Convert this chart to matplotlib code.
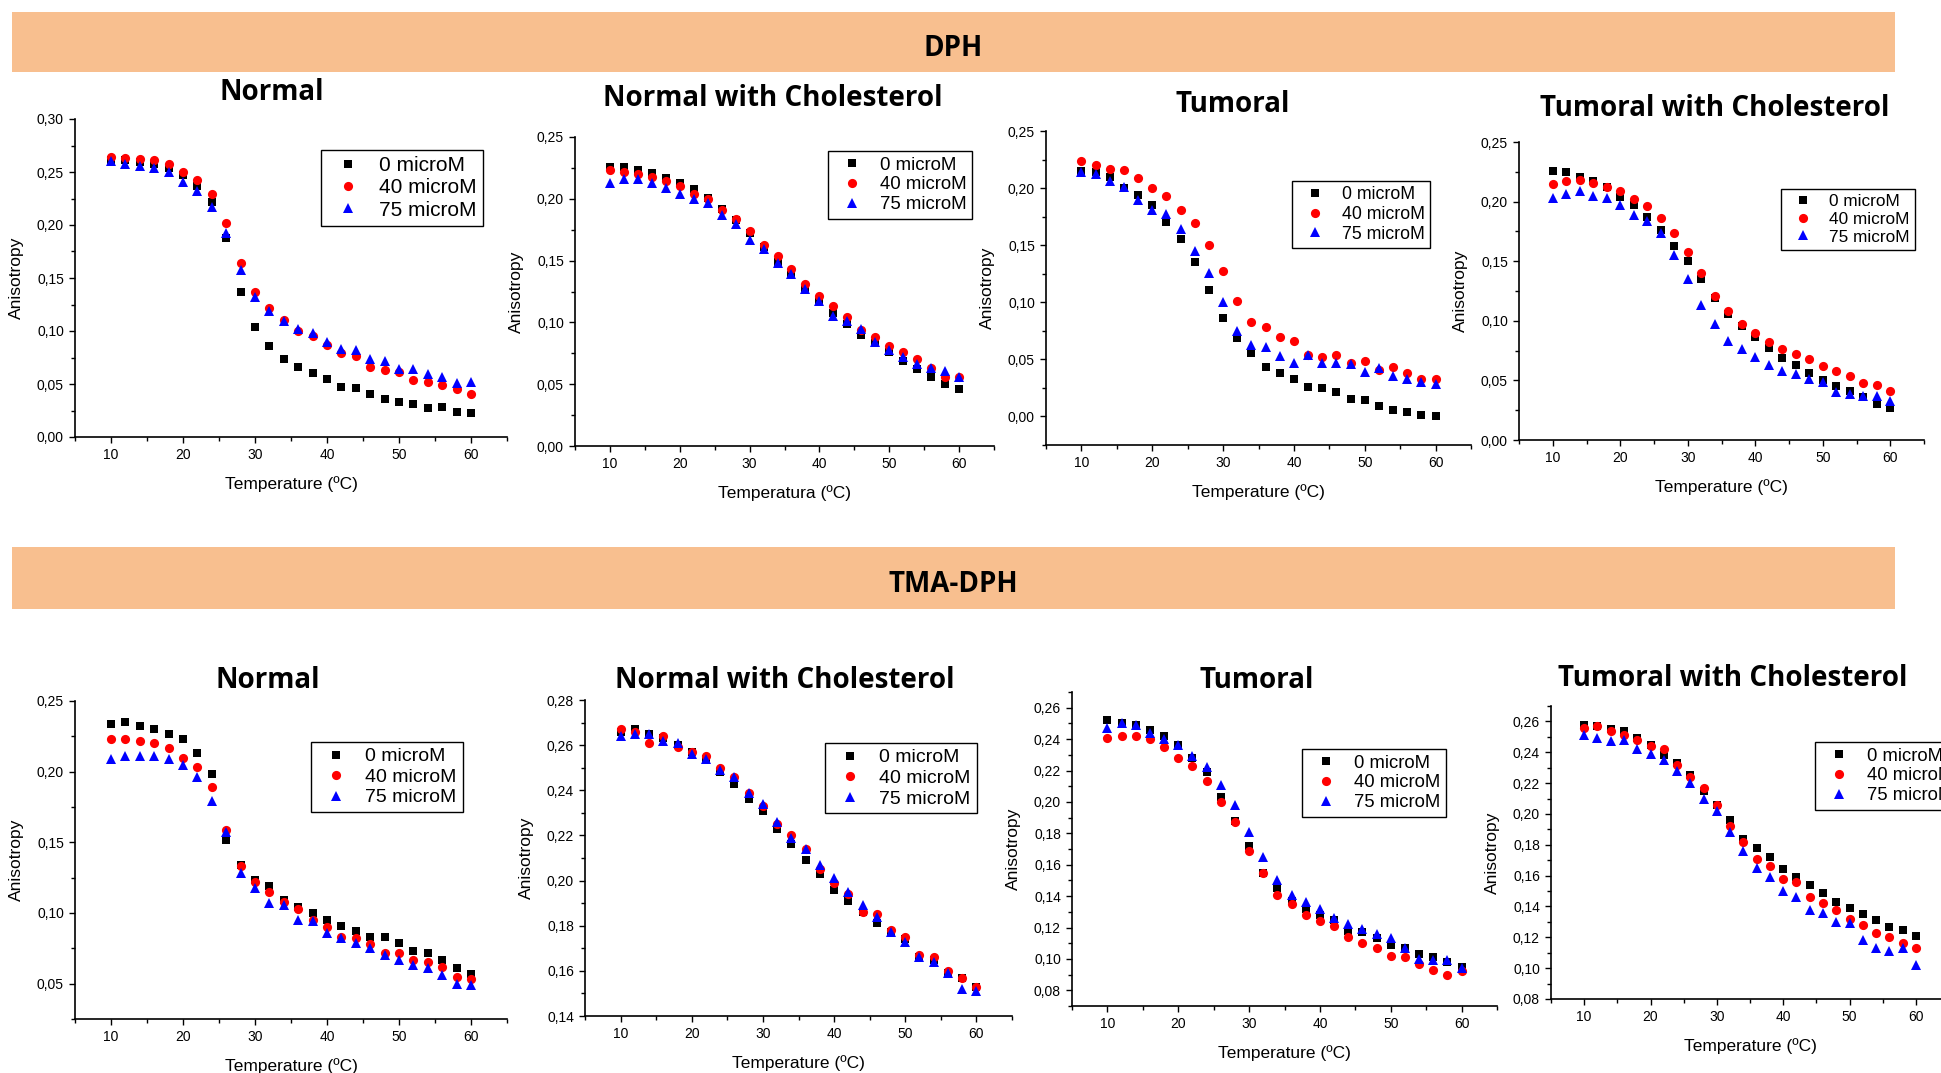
import matplotlib
matplotlib.use('Agg')
import matplotlib.pyplot as plt
from matplotlib.patches import Rectangle
from matplotlib.ticker import MultipleLocator, FuncFormatter

# temperatures (ºC)
temps = [10, 12, 14, 16, 18, 20, 22, 24, 26, 28, 30, 32, 34, 36, 38, 40,
         42, 44, 46, 48, 50, 52, 54, 56, 58, 60]
series_labels = ['0 microM', '40 microM', '75 microM']

# ---- DPH ----
dph_normal_0 = [0.261, 0.261, 0.259, 0.258, 0.254, 0.247, 0.237, 0.222, 0.188, 0.137, 0.104, 0.086, 0.074,
                0.066, 0.060, 0.055, 0.047, 0.046, 0.041, 0.036, 0.033, 0.031, 0.027, 0.028, 0.024, 0.023]
dph_normal_40 = [0.264, 0.263, 0.262, 0.261, 0.258, 0.250, 0.242, 0.229, 0.202, 0.164, 0.137, 0.122, 0.110,
                 0.100, 0.095, 0.087, 0.079, 0.076, 0.066, 0.063, 0.061, 0.054, 0.052, 0.049, 0.045, 0.041]
dph_normal_75 = [0.260, 0.258, 0.256, 0.254, 0.250, 0.241, 0.232, 0.217, 0.192, 0.158, 0.132, 0.119, 0.109,
                 0.102, 0.098, 0.090, 0.083, 0.082, 0.074, 0.072, 0.064, 0.064, 0.059, 0.057, 0.051, 0.052]

dph_chol_0 = [0.226, 0.226, 0.223, 0.221, 0.217, 0.213, 0.208, 0.201, 0.192, 0.183, 0.172, 0.161, 0.149,
              0.138, 0.128, 0.117, 0.108, 0.099, 0.090, 0.083, 0.076, 0.069, 0.062, 0.056, 0.050, 0.046]
dph_chol_40 = [0.223, 0.222, 0.220, 0.218, 0.214, 0.210, 0.204, 0.200, 0.191, 0.184, 0.174, 0.163, 0.154,
               0.143, 0.131, 0.121, 0.113, 0.104, 0.094, 0.088, 0.081, 0.076, 0.070, 0.063, 0.056, 0.056]
dph_chol_75 = [0.213, 0.216, 0.216, 0.213, 0.209, 0.204, 0.200, 0.197, 0.187, 0.180, 0.167, 0.159, 0.148,
               0.139, 0.127, 0.117, 0.105, 0.101, 0.095, 0.084, 0.078, 0.072, 0.066, 0.063, 0.061, 0.056]

dph_tum_0 = [0.215, 0.214, 0.210, 0.200, 0.194, 0.185, 0.170, 0.155, 0.135, 0.111, 0.086, 0.069, 0.056,
             0.043, 0.038, 0.033, 0.026, 0.025, 0.021, 0.015, 0.014, 0.009, 0.006, 0.004, 0.001, 0.000]
dph_tum_40 = [0.224, 0.220, 0.217, 0.216, 0.209, 0.200, 0.193, 0.181, 0.169, 0.150, 0.127, 0.101, 0.083,
              0.078, 0.070, 0.066, 0.054, 0.052, 0.054, 0.047, 0.049, 0.041, 0.043, 0.038, 0.033, 0.033]
dph_tum_75 = [0.214, 0.212, 0.206, 0.201, 0.190, 0.181, 0.177, 0.164, 0.145, 0.126, 0.100, 0.075, 0.063,
              0.061, 0.053, 0.047, 0.054, 0.047, 0.047, 0.046, 0.039, 0.042, 0.035, 0.033, 0.030, 0.028]

dph_tumchol_0 = [0.226, 0.225, 0.221, 0.217, 0.212, 0.204, 0.197, 0.187, 0.176, 0.163, 0.150, 0.135, 0.119,
                 0.106, 0.096, 0.086, 0.077, 0.069, 0.063, 0.056, 0.050, 0.045, 0.041, 0.036, 0.030, 0.027]
dph_tumchol_40 = [0.215, 0.217, 0.218, 0.216, 0.212, 0.209, 0.202, 0.196, 0.186, 0.174, 0.158, 0.140, 0.121,
                  0.108, 0.097, 0.090, 0.082, 0.076, 0.072, 0.068, 0.062, 0.058, 0.054, 0.048, 0.046, 0.041]
dph_tumchol_75 = [0.203, 0.206, 0.209, 0.205, 0.203, 0.197, 0.189, 0.184, 0.174, 0.155, 0.135, 0.113, 0.097,
                  0.083, 0.076, 0.070, 0.063, 0.058, 0.055, 0.051, 0.049, 0.040, 0.039, 0.037, 0.037, 0.033]

# ---- TMA-DPH ----
tma_normal_0 = [0.234, 0.235, 0.232, 0.230, 0.227, 0.223, 0.213, 0.198, 0.152, 0.134, 0.123, 0.119, 0.109,
                0.104, 0.100, 0.095, 0.091, 0.087, 0.083, 0.083, 0.079, 0.073, 0.072, 0.067, 0.061, 0.057]
tma_normal_40 = [0.223, 0.223, 0.222, 0.220, 0.217, 0.210, 0.203, 0.189, 0.159, 0.133, 0.122, 0.115, 0.108,
                 0.103, 0.095, 0.090, 0.083, 0.082, 0.078, 0.072, 0.072, 0.067, 0.065, 0.062, 0.055, 0.053]
tma_normal_75 = [0.209, 0.211, 0.211, 0.211, 0.209, 0.205, 0.196, 0.179, 0.157, 0.128, 0.118, 0.107, 0.106,
                 0.095, 0.094, 0.086, 0.082, 0.079, 0.075, 0.070, 0.067, 0.063, 0.061, 0.056, 0.050, 0.049]

tma_chol_0 = [0.266, 0.267, 0.265, 0.263, 0.260, 0.257, 0.254, 0.248, 0.243, 0.236, 0.231, 0.223, 0.216,
              0.209, 0.203, 0.196, 0.191, 0.186, 0.181, 0.177, 0.174, 0.166, 0.165, 0.159, 0.157, 0.153]
tma_chol_40 = [0.267, 0.266, 0.261, 0.264, 0.259, 0.257, 0.255, 0.250, 0.246, 0.239, 0.233, 0.225, 0.220,
               0.214, 0.205, 0.199, 0.194, 0.186, 0.185, 0.178, 0.175, 0.167, 0.166, 0.160, 0.157, 0.153]
tma_chol_75 = [0.264, 0.265, 0.265, 0.262, 0.261, 0.256, 0.254, 0.249, 0.246, 0.239, 0.234, 0.226, 0.219,
               0.214, 0.207, 0.201, 0.195, 0.189, 0.184, 0.177, 0.173, 0.166, 0.164, 0.159, 0.152, 0.151]

tma_tum_0 = [0.252, 0.250, 0.249, 0.246, 0.242, 0.236, 0.228, 0.219, 0.203, 0.188, 0.172, 0.155, 0.145,
             0.137, 0.132, 0.128, 0.125, 0.118, 0.117, 0.113, 0.109, 0.107, 0.103, 0.101, 0.098, 0.095]
tma_tum_40 = [0.241, 0.242, 0.242, 0.240, 0.235, 0.228, 0.223, 0.213, 0.200, 0.187, 0.169, 0.155, 0.141,
              0.135, 0.128, 0.124, 0.121, 0.114, 0.110, 0.107, 0.102, 0.101, 0.097, 0.093, 0.090, 0.092]
tma_tum_75 = [0.247, 0.250, 0.249, 0.244, 0.240, 0.236, 0.229, 0.222, 0.211, 0.198, 0.181, 0.165, 0.150,
              0.141, 0.136, 0.132, 0.126, 0.122, 0.119, 0.116, 0.113, 0.107, 0.100, 0.099, 0.099, 0.094]

tma_tumchol_0 = [0.258, 0.257, 0.255, 0.254, 0.249, 0.245, 0.238, 0.233, 0.225, 0.215, 0.206, 0.196, 0.184,
                 0.178, 0.172, 0.164, 0.159, 0.154, 0.149, 0.143, 0.139, 0.135, 0.131, 0.127, 0.125, 0.121]
tma_tumchol_40 = [0.256, 0.257, 0.254, 0.251, 0.248, 0.244, 0.242, 0.232, 0.224, 0.217, 0.206, 0.192, 0.182,
                  0.171, 0.166, 0.158, 0.156, 0.146, 0.142, 0.138, 0.132, 0.128, 0.123, 0.120, 0.116, 0.113]
tma_tumchol_75 = [0.251, 0.249, 0.247, 0.248, 0.242, 0.239, 0.235, 0.228, 0.220, 0.210, 0.202, 0.188, 0.176,
                  0.165, 0.159, 0.150, 0.146, 0.138, 0.136, 0.130, 0.129, 0.118, 0.113, 0.111, 0.113, 0.102]

W, H = 1941, 1073
BANNER = '#F8BF8F'
TICK_FONT = 'Liberation Sans'
TITLE_FONT = 'Open Sans'

# layout in pixels: (title, xlabel, data, axes box l/t/r/b, ylim, major step,
#                    title centre, legend top-left, legend font size)
panels = [
    ('Normal', 'Temperature (ºC)', (dph_normal_0, dph_normal_40, dph_normal_75),
     (75, 119, 507, 437), (0.0, 0.30), 0.05, (272, 92), (321, 150), 15),
    ('Normal with Cholesterol', 'Temperatura (ºC)', (dph_chol_0, dph_chol_40, dph_chol_75),
     (575, 137, 994, 446), (0.0, 0.25), 0.05, (773, 99), (828, 151), 13.4),
    ('Tumoral', 'Temperature (ºC)', (dph_tum_0, dph_tum_40, dph_tum_75),
     (1046, 131, 1471, 445), (-0.025, 0.25), 0.05, (1233, 104), (1292, 181), 12.8),
    ('Tumoral with Cholesterol', 'Temperature (ºC)', (dph_tumchol_0, dph_tumchol_40, dph_tumchol_75),
     (1519, 142, 1924, 440), (0.0, 0.25), 0.05, (1715, 108), (1781, 189), 12.4),
    ('Normal', 'Temperature (ºC)', (tma_normal_0, tma_normal_40, tma_normal_75),
     (75, 701, 507, 1019), (0.025, 0.25), 0.05, (268, 681), (311, 742), 14),
    ('Normal with Cholesterol', 'Temperature (ºC)', (tma_chol_0, tma_chol_40, tma_chol_75),
     (585, 700, 1012, 1016), (0.14, 0.28), 0.02, (785, 680), (825, 743), 14),
    ('Tumoral', 'Temperature (ºC)', (tma_tum_0, tma_tum_40, tma_tum_75),
     (1072, 692, 1497, 1006), (0.07, 0.27), 0.02, (1257, 680), (1302, 749), 13.3),
    ('Tumoral with Cholesterol', 'Temperature (ºC)', (tma_tumchol_0, tma_tumchol_40, tma_tumchol_75),
     (1551, 706, 1949, 999), (0.08, 0.27), 0.02, (1733, 678), (1815, 742), 13.3),
]

styles = [dict(marker='s', color='black', markersize=5.8),
          dict(marker='o', color='red', markersize=6.6),
          dict(marker='^', color='blue', markersize=7.2)]


def comma_fmt(v, pos):
    if abs(v) < 1e-9:
        v = 0.0
    return f"{v:.2f}".replace('.', ',')


fig = plt.figure(figsize=(W / 100, H / 100), dpi=100)

# section banners
for top, bottom, text in [(12, 72, 'DPH'), (547, 609, 'TMA-DPH')]:
    fig.patches.append(Rectangle((12 / W, 1 - bottom / H), (1895 - 12) / W, (bottom - top) / H,
                                 transform=fig.transFigure, facecolor=BANNER, edgecolor='none'))
    fig.text(953 / W, 1 - (top + 37) / H, text, ha='center', va='center',
             fontsize=20, fontweight='bold', family=TITLE_FONT)

for title, xlabel, data, box, ylim, major, tpos, lpos, lsize in panels:
    l, t, r, b = box
    ax = fig.add_axes([l / W, 1 - b / H, (r - l) / W, (b - t) / H])
    for values, label, st in zip(data, series_labels, styles):
        ax.plot(temps, values, linestyle='none', label=label, markeredgewidth=0, **st)
    ax.set_xlim(5, 65)
    ax.set_ylim(*ylim)
    ax.spines['top'].set_visible(False)
    ax.spines['right'].set_visible(False)
    for s in ('left', 'bottom'):
        ax.spines[s].set_linewidth(1.2)
    ax.xaxis.set_major_locator(MultipleLocator(10))
    ax.xaxis.set_minor_locator(MultipleLocator(5))
    ax.yaxis.set_major_locator(MultipleLocator(major))
    ax.yaxis.set_minor_locator(MultipleLocator(major / 2))
    ax.yaxis.set_major_formatter(FuncFormatter(comma_fmt))
    ax.tick_params(which='both', direction='out', width=1.0, labelsize=10, pad=4)
    ax.tick_params(which='major', length=4)
    ax.tick_params(which='minor', length=3)
    for lab in ax.get_xticklabels() + ax.get_yticklabels():
        lab.set_family(TICK_FONT)
    ax.set_xlabel(xlabel, fontsize=12.5, family=TICK_FONT, labelpad=10)
    ax.set_ylabel('Anisotropy', fontsize=12.5, family=TICK_FONT, labelpad=9)

    fig.text(tpos[0] / W, 1 - tpos[1] / H, title, ha='center', va='center',
             fontsize=20, fontweight='bold', family=TITLE_FONT)

    leg = ax.legend(loc='upper left', bbox_to_anchor=(lpos[0] / W, 1 - lpos[1] / H),
                    bbox_transform=fig.transFigure, numpoints=1, fancybox=False,
                    framealpha=1, edgecolor='black', borderaxespad=0, borderpad=0.3,
                    handlelength=2.0, handletextpad=0.5, labelspacing=0.15,
                    prop={'family': TICK_FONT, 'size': lsize})
    leg.get_frame().set_linewidth(1.0)

fig.savefig('out.png', dpi=100)
